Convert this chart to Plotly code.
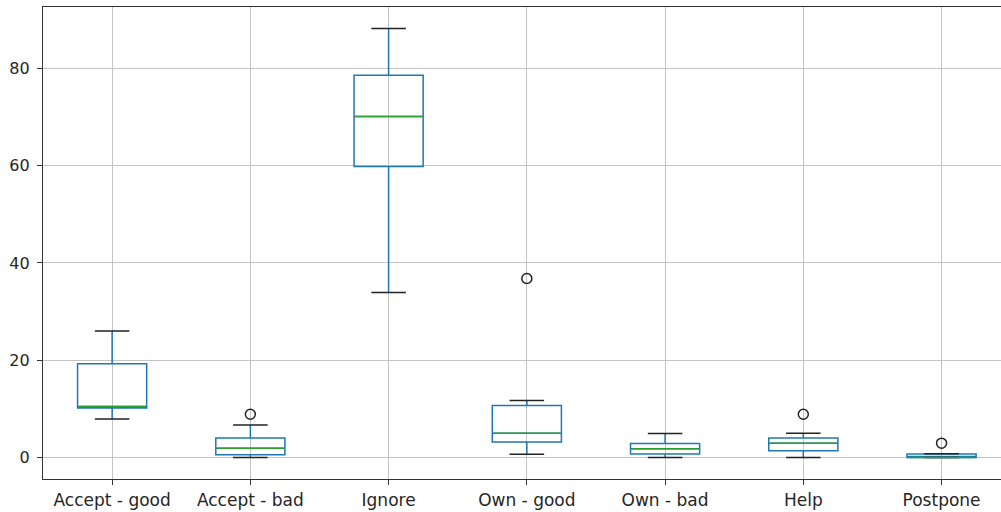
import plotly.graph_objects as go

categories = ["Accept - good", "Accept - bad", "Ignore", "Own - good", "Own - bad", "Help", "Postpone"]
lower_whisker = [7.9, 0.0, 33.9, 0.7, 0.0, 0.0, 0.0]
q1 = [10.2, 0.6, 59.8, 3.2, 0.75, 1.4, 0.0]
median = [10.5, 1.9, 70.1, 5.0, 1.8, 2.95, 0.0]
q3 = [19.3, 4.0, 78.6, 10.7, 2.9, 4.0, 0.75]
upper_whisker = [26.0, 6.7, 88.2, 11.75, 4.95, 5.0, 0.8]
outlier_cat = [1, 3, 5, 6]
outlier_val = [8.9, 36.8, 8.9, 2.95]

pos = list(range(len(categories)))
box_w = 0.5
cap_w = 0.25

fig = go.Figure()
fig.add_trace(go.Box(
    x=pos, q1=q1, median=median, q3=q3,
    lowerfence=lower_whisker, upperfence=upper_whisker,
    width=box_w, whiskerwidth=0,
    line=dict(color="#1f77b4", width=1.5),
    fillcolor="rgba(0,0,0,0)", boxpoints=False,
    hoverinfo="skip", showlegend=False,
))

cap_x, cap_y = [], []
for i, lo, hi in zip(pos, lower_whisker, upper_whisker):
    cap_x += [i - cap_w / 2, i + cap_w / 2, None, i - cap_w / 2, i + cap_w / 2, None]
    cap_y += [lo, lo, None, hi, hi, None]
fig.add_trace(go.Scatter(x=cap_x, y=cap_y, mode="lines",
                         line=dict(color="#222222", width=1.5),
                         hoverinfo="skip", showlegend=False))

med_x, med_y = [], []
for i, m in zip(pos, median):
    med_x += [i - box_w / 2 + 0.01, i + box_w / 2 - 0.01, None]
    med_y += [m, m, None]
fig.add_trace(go.Scatter(x=med_x, y=med_y, mode="lines",
                         line=dict(color="#2ca02c", width=1.5),
                         hoverinfo="skip", showlegend=False))

fig.add_trace(go.Scatter(x=outlier_cat, y=outlier_val, mode="markers",
                         marker=dict(symbol="circle-open", size=10, color="#222222",
                                     line=dict(width=1.5, color="#222222")),
                         hoverinfo="skip", showlegend=False))

fig.update_layout(
    width=1001, height=512,
    margin=dict(l=43, r=0, t=7, b=33, autoexpand=False),
    paper_bgcolor="white", plot_bgcolor="white",
    font=dict(family="DejaVu Sans", size=17, color="#262626"),
    xaxis=dict(
        range=[-0.5, 6.43], tickmode="array", tickvals=pos, ticktext=categories,
        showgrid=True, gridcolor="#c4c4c4", gridwidth=1,
        showline=True, linecolor="#333333", linewidth=1.2, mirror=True,
        ticks="outside", ticklen=5, tickcolor="#333333", zeroline=False,
        automargin=False,
    ),
    yaxis=dict(
        range=[-4.41, 92.61], tickvals=[0, 20, 40, 60, 80],
        showgrid=True, gridcolor="#c4c4c4", gridwidth=1,
        showline=True, linecolor="#333333", linewidth=1.2, mirror=False,
        ticks="outside", ticklen=5, tickcolor="#333333", zeroline=False,
        automargin=False, ticklabelstandoff=4, tickfont=dict(size=16),
    ),
)

fig.write_html("out.html", config={"displayModeBar": False},
               post_script="document.body.style.margin='0';document.body.style.overflow='hidden';")
